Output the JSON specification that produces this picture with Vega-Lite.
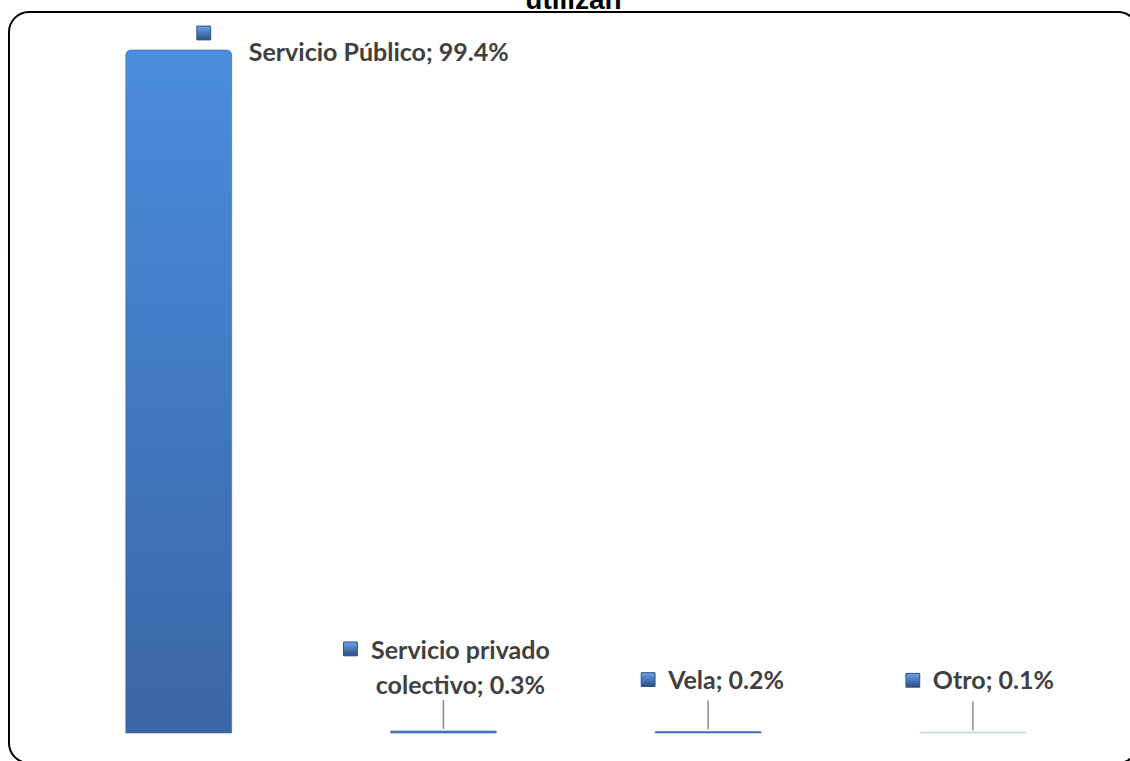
{
  "$schema": "https://vega.github.io/schema/vega-lite/v6.json",
  "width": 1129,
  "height": 751,
  "autosize": {"type": "none"},
  "padding": {"left": 9, "top": 12, "right": -8, "bottom": -2},
  "background": "#ffffff",
  "title": {
    "text": "utilizan",
    "font": "Liberation Sans",
    "fontSize": 28,
    "fontWeight": "bold",
    "color": "#000000",
    "anchor": "middle",
    "baseline": "alphabetic",
    "offset": 0,
    "dx": 0,
    "dy": 25
  },
  "config": {
    "view": {"stroke": "#000000", "strokeWidth": 2, "cornerRadius": 20, "fill": "#ffffff"}
  },
  "data": {
    "values": [
      {"cat": "Servicio Público", "value": 99.4, "label": "Servicio Público; 99.4%"},
      {"cat": "Servicio privado colectivo", "value": 0.3, "label": "Servicio privado\ncolectivo; 0.3%"},
      {"cat": "Vela", "value": 0.2, "label": "Vela; 0.2%"},
      {"cat": "Otro", "value": 0.1, "label": "Otro; 0.1%"}
    ]
  },
  "encoding": {
    "x": {
      "field": "cat",
      "type": "nominal",
      "sort": null,
      "axis": null,
      "scale": {"paddingInner": 0.6, "paddingOuter": 0.4326, "align": 0.51}
    },
    "y": {
      "field": "value",
      "type": "quantitative",
      "axis": null,
      "scale": {"domain": [-4.37, 104.93], "nice": false, "zero": false}
    }
  },
  "layer": [
    {
      "mark": {
        "type": "bar",
        "cornerRadiusTopLeft": 5,
        "cornerRadiusTopRight": 5,
        "stroke": "#3a66a6",
        "strokeWidth": 1,
        "strokeOpacity": 0.6,
        "color": {
          "gradient": "linear",
          "x1": 0, "y1": 0, "x2": 0, "y2": 1,
          "stops": [
            {"offset": 0, "color": "#4b8ddd"},
            {"offset": 1, "color": "#3a66a6"}
          ]
        }
      },
      "encoding": {
        "y2": {"datum": 0},
        "opacity": {"condition": {"test": "datum.cat === 'Otro'", "value": 0.35}, "value": 1}
      }
    },
    {
      "transform": [{"filter": "datum.value < 1"}],
      "mark": {"type": "rule", "color": "#8c8c8c", "strokeWidth": 1.5, "y2Offset": -31, "yOffset": -2},
      "encoding": {"y2": {"field": "value"}}
    },
    {
      "transform": [{"filter": "datum.cat === 'Servicio Público'"}],
      "mark": {"type": "text", "align": "left", "baseline": "middle", "dx": 70, "dy": 3, "font": "Lato", "fontWeight": "bold", "fontSize": 25, "color": "#404040"},
      "encoding": {"text": {"field": "label"}}
    },
    {
      "transform": [{"filter": "datum.cat === 'Servicio Público'"}],
      "mark": {
        "type": "point", "shape": "square", "filled": true, "size": 190, "xOffset": 25, "yOffset": -17,
        "stroke": "#2b4f80", "strokeWidth": 1, "opacity": 1,
        "fill": {"gradient": "linear", "x1": 0, "y1": 0, "x2": 0, "y2": 1, "stops": [{"offset": 0, "color": "#6aa3ea"}, {"offset": 1, "color": "#2a4f86"}]}
      }
    },
    {
      "transform": [{"filter": "datum.cat === 'Servicio privado colectivo'"}],
      "mark": {"type": "text", "align": "center", "baseline": "middle", "lineBreak": "\n", "lineHeight": 35, "dx": 17, "dy": -80, "font": "Lato", "fontWeight": "bold", "fontSize": 25, "color": "#404040"},
      "encoding": {"text": {"field": "label"}}
    },
    {
      "transform": [{"filter": "datum.cat === 'Servicio privado colectivo'"}],
      "mark": {
        "type": "point", "shape": "square", "filled": true, "size": 190, "xOffset": -93, "yOffset": -82,
        "stroke": "#2b4f80", "strokeWidth": 1, "opacity": 1,
        "fill": {"gradient": "linear", "x1": 0, "y1": 0, "x2": 0, "y2": 1, "stops": [{"offset": 0, "color": "#6aa3ea"}, {"offset": 1, "color": "#2a4f86"}]}
      }
    },
    {
      "transform": [{"filter": "datum.cat === 'Vela' || datum.cat === 'Otro'"}],
      "mark": {"type": "text", "align": "left", "baseline": "middle", "dx": -40, "dy": -51, "font": "Lato", "fontWeight": "bold", "fontSize": 25, "color": "#404040"},
      "encoding": {"text": {"field": "label"}}
    },
    {
      "transform": [{"filter": "datum.cat === 'Vela' || datum.cat === 'Otro'"}],
      "mark": {
        "type": "point", "shape": "square", "filled": true, "size": 190, "xOffset": -60, "yOffset": -52,
        "stroke": "#2b4f80", "strokeWidth": 1, "opacity": 1,
        "fill": {"gradient": "linear", "x1": 0, "y1": 0, "x2": 0, "y2": 1, "stops": [{"offset": 0, "color": "#6aa3ea"}, {"offset": 1, "color": "#2a4f86"}]}
      }
    }
  ]
}
